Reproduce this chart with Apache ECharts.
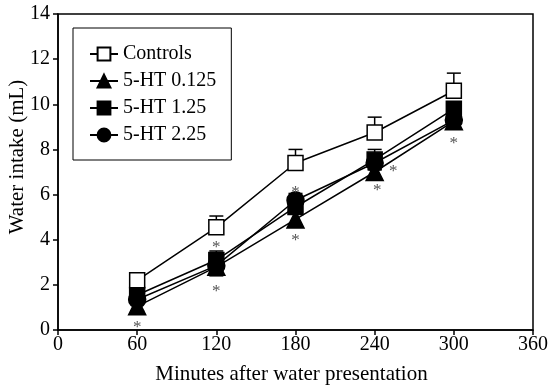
<!DOCTYPE html>
<html><head><meta charset="utf-8">
<script src="https://cdn.jsdelivr.net/npm/echarts@6/dist/echarts.min.js"></script>
<style>html,body{margin:0;padding:0;background:#fff}#c{width:557px;height:390px}</style>
</head><body><div id="c"></div>
<script>
const minutes = [60, 120, 180, 240, 300];
const seriesNames = ['Controls', '5-HT 0.125', '5-HT 1.25', '5-HT 2.25'];
const controls = [2.2, 4.55, 7.4, 8.75, 10.6];
const ht0125 = [1.05, 2.8, 4.9, 7.0, 9.25];
const ht125 = [1.55, 3.1, 5.45, 7.55, 9.8];
const ht225 = [1.35, 2.85, 5.75, 7.4, 9.3];
const errControls = [0.2, 0.5, 0.6, 0.68, 0.78];
const err0125 = [0.2, 0.2, 0.25, 0.3, 0.3];
const err125 = [0.2, 0.4, 0.3, 0.45, 0.3];
const err225 = [0.2, 0.45, 0.3, 0.3, 0.3];
const starX = [60, 120, 120, 180, 180, 242, 254, 300];
const starY = [0.3, 3.85, 1.9, 6.28, 4.13, 6.34, 7.22, 8.42];
const xTicks = [0, 60, 120, 180, 240, 300, 360];
const yTicks = [0, 2, 4, 6, 8, 10, 12, 14];

const FONT = 'Liberation Serif';
const chart = echarts.init(document.getElementById('c'));

function errSeries(vals, errs, upOnly, z) {
  return {
    type: 'custom', z: z, silent: true,
    data: minutes.map((m, i) => [m, vals[i], errs[i]]),
    renderItem: function (params, api) {
      const x = api.value(0), y = api.value(1), e = api.value(2);
      const top = api.coord([x, y + e]);
      const bot = api.coord([x, upOnly ? y : y - e]);
      const cap = 7;
      const style = { stroke: '#000', lineWidth: 1.5 };
      const children = [
        { type: 'line', shape: { x1: top[0], y1: top[1], x2: bot[0], y2: bot[1] }, style: style },
        { type: 'line', shape: { x1: top[0] - cap, y1: top[1], x2: top[0] + cap, y2: top[1] }, style: style }
      ];
      if (!upOnly) children.push({ type: 'line', shape: { x1: bot[0] - cap, y1: bot[1], x2: bot[0] + cap, y2: bot[1] }, style: style });
      return { type: 'group', children: children };
    }
  };
}

function lineSeries(name, vals, symbol, size, fill, z) {
  return {
    name: name, type: 'line', z: z,
    data: minutes.map((m, i) => [m, vals[i]]),
    symbol: symbol, symbolSize: size, showSymbol: true,
    lineStyle: { color: '#000', width: 1.5 },
    itemStyle: { color: fill, borderColor: '#000', borderWidth: 1.5 },
    emphasis: { disabled: true }
  };
}

chart.setOption({
  animation: false,
  backgroundColor: '#fff',
  grid: { left: 58, right: 24, top: 14, bottom: 60, containLabel: false, outerBoundsMode: 'none',
          show: true, borderColor: '#000', borderWidth: 1.5, backgroundColor: 'transparent' },
  legend: {
    orient: 'vertical', left: 73, top: 28,
    backgroundColor: '#fff', borderColor: '#000', borderWidth: 1,
    padding: [16, 15, 15, 16], itemGap: 7, itemWidth: 28, itemHeight: 16,
    textStyle: { fontFamily: FONT, fontSize: 20, color: '#000' },
    data: seriesNames
  },
  xAxis: {
    type: 'value', min: 0, max: 360, interval: 60,
    name: 'Minutes after water presentation', nameLocation: 'middle', nameGap: 34, nameMoveOverlap: false,
    nameTextStyle: { fontFamily: FONT, fontSize: 21, color: '#000', padding: [0, 8, 0, 0] },
    axisLine: { lineStyle: { color: '#000', width: 1.5 } },
    axisTick: { show: true, inside: false, lineStyle: { color: '#000', width: 1.5 }, length: 5 },
    axisLabel: { fontFamily: FONT, fontSize: 20, color: '#000', margin: 5 },
    splitLine: { show: false }
  },
  yAxis: {
    type: 'value', min: 0, max: 14, interval: 2,
    name: 'Water intake (mL)', nameLocation: 'middle', nameGap: 30, nameMoveOverlap: false,
    nameTextStyle: { fontFamily: FONT, fontSize: 21, color: '#000', padding: [0, 0, 0, 30] },
    axisLine: { show: true, lineStyle: { color: '#000', width: 1.5 } },
    axisTick: { show: true, inside: false, lineStyle: { color: '#000', width: 1.5 }, length: 5 },
    axisLabel: { fontFamily: FONT, fontSize: 20, color: '#000', margin: 8 },
    splitLine: { show: false }
  },
  series: [
    errSeries(controls, errControls, true, 1),
    errSeries(ht0125, err0125, false, 1),
    errSeries(ht125, err125, false, 1),
    errSeries(ht225, err225, false, 1),
    lineSeries('5-HT 0.125', ht0125, 'triangle', 17, '#000', 3),
    lineSeries('5-HT 1.25', ht125, 'rect', 15, '#000', 3),
    lineSeries('5-HT 2.25', ht225, 'circle', 17, '#000', 3),
    lineSeries('Controls', controls, 'rect', 15, '#fff', 4),
    {
      type: 'custom', z: 6, silent: true,
      data: starX.map((x, i) => [x, starY[i]]),
      renderItem: function (params, api) {
        const p = api.coord([api.value(0), api.value(1)]);
        return {
          type: 'text',
          style: { text: '*', x: p[0], y: p[1] + 4, textAlign: 'center', textVerticalAlign: 'middle',
                   font: '17px "Liberation Serif"', fill: '#555' }
        };
      }
    }
  ]
});
</script></body></html>
